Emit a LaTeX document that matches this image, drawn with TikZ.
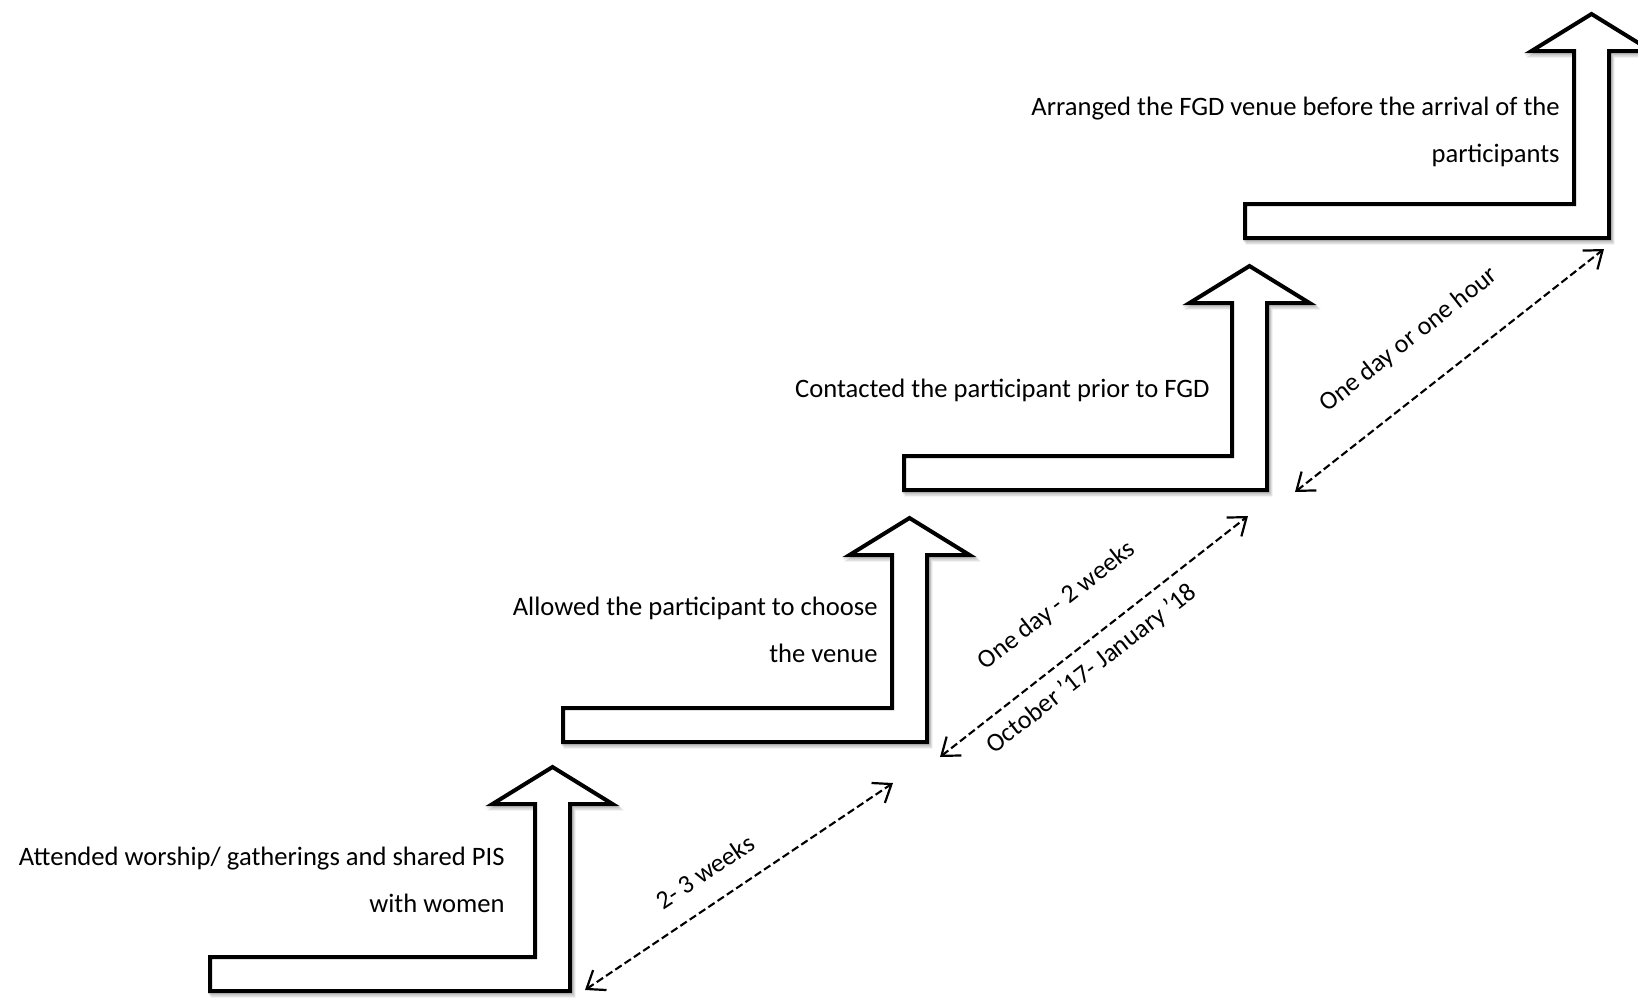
\documentclass[tikz,border=0pt]{standalone}
\usepackage{fontspec}
\setmainfont{Carlito}
\usetikzlibrary{arrows.meta}

% One stair step: horizontal bar with an upward arrow at its right end.
% #1 = left edge of bar, #2 = bottom of bar, #3 = outer (right) edge of shaft
\newcommand{\stairpath}[3]{%
    (#1,#2) -- (#3,#2) -- (#3,#2-187) -- (#3-17.5+60,#2-187)
    -- (#3-17.5,#2-224) -- (#3-17.5-60,#2-187) -- (#3-35,#2-187)
    -- (#3-35,#2-34) -- (#1,#2-34) -- cycle}
\newcommand{\stairstep}[3]{%
  \draw[stepshadow, shift={(3,4)}] \stairpath{#1}{#2}{#3};
  \draw[stepshadow, shift={(1.5,2)}] \stairpath{#1}{#2}{#3};
  \draw[stepframe] \stairpath{#1}{#2}{#3};}

\begin{document}
\begin{tikzpicture}[x=0.5pt,y=-0.5pt,
  stepframe/.style={draw=black, line width=2pt, fill=white, line join=miter},
  stepshadow/.style={draw=black, line width=2.4pt, opacity=0.12, line join=miter},
  steptext/.style={align=right, anchor=base east, inner sep=0pt,
    font=\fontsize{13.3}{23.5}\selectfont},
  spanarrow/.style={line width=1.05pt, dash pattern=on 3.8pt off 1.8pt,
    {Straight Barb[length=8pt,width=12pt,line width=1.1pt]}-{Straight Barb[length=8pt,width=12pt,line width=1.1pt]}},
  spanlabel/.style={inner sep=0pt, font=\fontsize{13}{15}\selectfont}]

\useasboundingbox (0,0) rectangle (1638,997);
\clip (0,0) rectangle (1638,997);

% the four steps
\stairstep{210}{991}{570}
\stairstep{563}{742}{927}
\stairstep{904}{490}{1267}
\stairstep{1245}{238}{1609}

% step descriptions (anchored at the baseline of their last line)
\node[steptext] (t1) at (505,912) {Attended worship/ gatherings and shared PIS\\with women};
\node[steptext] (t2) at (878,662) {Allowed the participant to choose\\the venue};
\node[steptext] (t3) at (1210,397) {Contacted the participant prior to FGD};
\node[steptext] (t4) at (1560,162) {Arranged the FGD venue before the arrival of the\\participants};

% time spans between steps
\coordinate (a1) at (585,990);
\coordinate (a2) at (893,783);
\coordinate (b1) at (940,757);
\coordinate (b2) at (1248,516);
\coordinate (c1) at (1295,492);
\coordinate (c2) at (1604,249);
\draw[spanarrow] (a1) -- (a2);
\draw[spanarrow] (b1) -- (b2);
\draw[spanarrow] (c1) -- (c2);

\node[spanlabel, rotate=33.9] (la) at (705,872) {2- 3 weeks};
\node[spanlabel, rotate=38] (lb1) at (1057,606) {One day - 2 weeks};
\node[spanlabel, rotate=38] (lb2) at (1092,669) {October ’17- January ’18};
\node[spanlabel, rotate=38.2] (lc) at (1409,340) {One day or one hour};
\end{tikzpicture}
\end{document}
